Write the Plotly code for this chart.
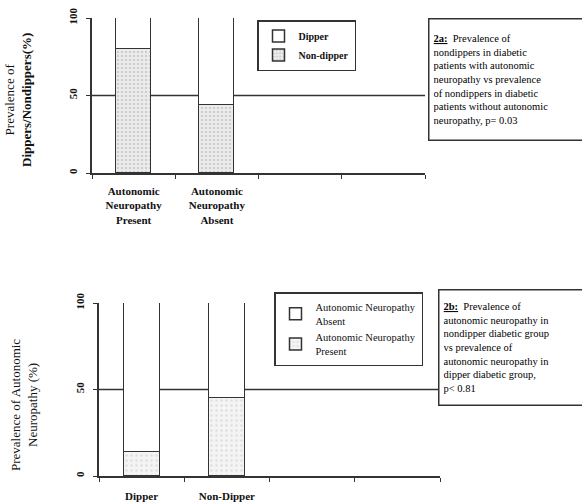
import plotly.graph_objects as go

# ---- data ----
top_categories = ["Autonomic<br>Neuropathy<br>Present", "Autonomic<br>Neuropathy<br>Absent"]
top_nondipper = [80, 44]
top_dipper = [20, 56]

bot_categories = ["Dipper", "Non-Dipper"]
bot_present = [14, 45]
bot_absent = [86, 55]

y_ticks = [0, 50, 100]
y_ticklabels = ["0", "50", "100"]

W, H = 582, 503
def px(x): return x / W
def py(y): return 1 - y / H

SERIF = "Liberation Serif"
grey_fill = "#ececec"

fig = go.Figure()
xpos = [0, 1]

fig.add_trace(go.Bar(x=xpos, y=top_nondipper, name="<b>Non-dipper</b>", xaxis="x", yaxis="y",
                     marker=dict(color=grey_fill, line=dict(color="#333", width=1.5),
                                 pattern=dict(shape=".", fgcolor="#b0b0b0", size=4, solidity=0.3)),
                     width=0.42, legend="legend"))
fig.add_trace(go.Bar(x=xpos, y=top_dipper, name="<b>Dipper</b>", xaxis="x", yaxis="y",
                     marker=dict(color="white", line=dict(color="#333", width=1.5)),
                     width=0.42, legend="legend"))

fig.add_trace(go.Bar(x=xpos, y=bot_present, name="Autonomic Neuropathy<br>Present", xaxis="x2", yaxis="y2",
                     marker=dict(color="#f4f4f4", line=dict(color="#333", width=1.5),
                                 pattern=dict(shape=".", fgcolor="#c8c8c8", size=5, solidity=0.2)),
                     width=0.42, legend="legend2"))
fig.add_trace(go.Bar(x=xpos, y=bot_absent, name="Autonomic Neuropathy<br>Absent", xaxis="x2", yaxis="y2",
                     marker=dict(color="white", line=dict(color="#333", width=1.5)),
                     width=0.42, legend="legend2"))

axis_common_x = dict(range=[-0.5, 3.5], showline=True, linecolor="#333", linewidth=1.5,
                     showgrid=False, zeroline=False, ticks="", automargin=False,
                     ticklabeloverflow="allow",
                     minor=dict(tick0=0.5, dtick=1, ticks="outside", ticklen=4, tickcolor="#333"),
                     tickfont=dict(family=SERIF, size=11, color="#111"))
axis_common_y = dict(range=[0, 100], showline=True, linecolor="#333", linewidth=1.5,
                     showgrid=False, zeroline=False, ticks="outside", ticklen=4, tickcolor="#333",
                     automargin=False, ticklabelstandoff=5, ticklabeloverflow="allow",
                     tickvals=y_ticks, ticktext=["<b>%s</b>" % t for t in y_ticklabels], tickangle=-90,
                     tickfont=dict(family=SERIF, size=11, color="#111"))

fig.update_layout(
    width=W, height=H, margin=dict(l=0, r=0, t=0, b=0, autoexpand=False),
    paper_bgcolor="white", plot_bgcolor="white",
    barmode="stack", bargap=0,
    xaxis=dict(axis_common_x, domain=[px(92), px(425)], anchor="y", ticklabelstandoff=7,
               tickvals=xpos, ticktext=["<b>%s</b>" % c for c in top_categories]),
    yaxis=dict(axis_common_y, domain=[py(173), py(18)], anchor="x"),
    xaxis2=dict(axis_common_x, domain=[px(99), px(440)], anchor="y2", ticklabelstandoff=9,
                tickvals=xpos, ticktext=["<b>%s</b>" % c for c in bot_categories]),
    yaxis2=dict(axis_common_y, domain=[py(476), py(303)], anchor="x2"),
    legend=dict(x=px(257), y=py(20), xanchor="left", yanchor="top", traceorder="reversed",
                bordercolor="#333", borderwidth=1.5, bgcolor="white", tracegroupgap=0,
                font=dict(family=SERIF, size=10, color="#111"), itemwidth=30),
    legend2=dict(x=px(274), y=py(292), xanchor="left", yanchor="top", traceorder="reversed",
                 bordercolor="#333", borderwidth=1.5, bgcolor="white", tracegroupgap=0,
                 font=dict(family=SERIF, size=10.5, color="#111"), itemwidth=30),
    showlegend=True,
)

# reference line at 50
fig.add_shape(type="line", xref="x domain", yref="y", x0=0, x1=1, y0=50, y1=50,
              line=dict(color="#333", width=1.5), layer="below")
fig.add_shape(type="line", xref="x2 domain", yref="y2", x0=0, x1=1, y0=50, y1=50,
              line=dict(color="#333", width=1.5), layer="below")

# axis titles
fig.add_annotation(text="Prevalence of<br><b>Dippers/Nondippers(%)</b>", xref="paper", yref="paper",
                   x=px(18), y=py(100), xanchor="center", yanchor="middle",
                   textangle=-90, showarrow=False,
                   font=dict(family=SERIF, size=13, color="#111"))
fig.add_annotation(text="Prevalence of Autonomic<br>Neuropathy (%)", xref="paper", yref="paper",
                   x=px(24), y=py(405), xanchor="center", yanchor="middle",
                   textangle=-90, showarrow=False,
                   font=dict(family=SERIF, size=13, color="#111"))

# caption boxes
fig.add_annotation(
    text="<b><u>2a:</u></b>  Prevalence of<br>nondippers in diabetic<br>patients with autonomic<br>"
         "neuropathy vs prevalence<br>of nondippers in diabetic<br>patients without autonomic<br>neuropathy, p= 0.03",
    xref="paper", yref="paper", x=px(428), y=py(18), xanchor="left", yanchor="top",
    showarrow=False, align="left", bordercolor="#333", borderwidth=1.5, borderpad=4,
    bgcolor="white", width=156, height=112,
    font=dict(family=SERIF, size=10.5, color="#000"))
fig.add_annotation(
    text="<b><u>2b:</u></b>  Prevalence of<br>autonomic neuropathy in<br>nondipper diabetic group<br>"
         "vs prevalence of<br>autonomic neuropathy in<br>dipper diabetic group,<br>p< 0.81",
    xref="paper", yref="paper", x=px(438), y=py(289), xanchor="left", yanchor="top",
    showarrow=False, align="left", bordercolor="#333", borderwidth=1.5, borderpad=4,
    bgcolor="white", width=146, height=106,
    font=dict(family=SERIF, size=10.5, color="#000"))

fig.write_html("out.html", config={"displayModeBar": False},
               post_script="document.body.style.margin='0';document.body.style.overflow='hidden';")
